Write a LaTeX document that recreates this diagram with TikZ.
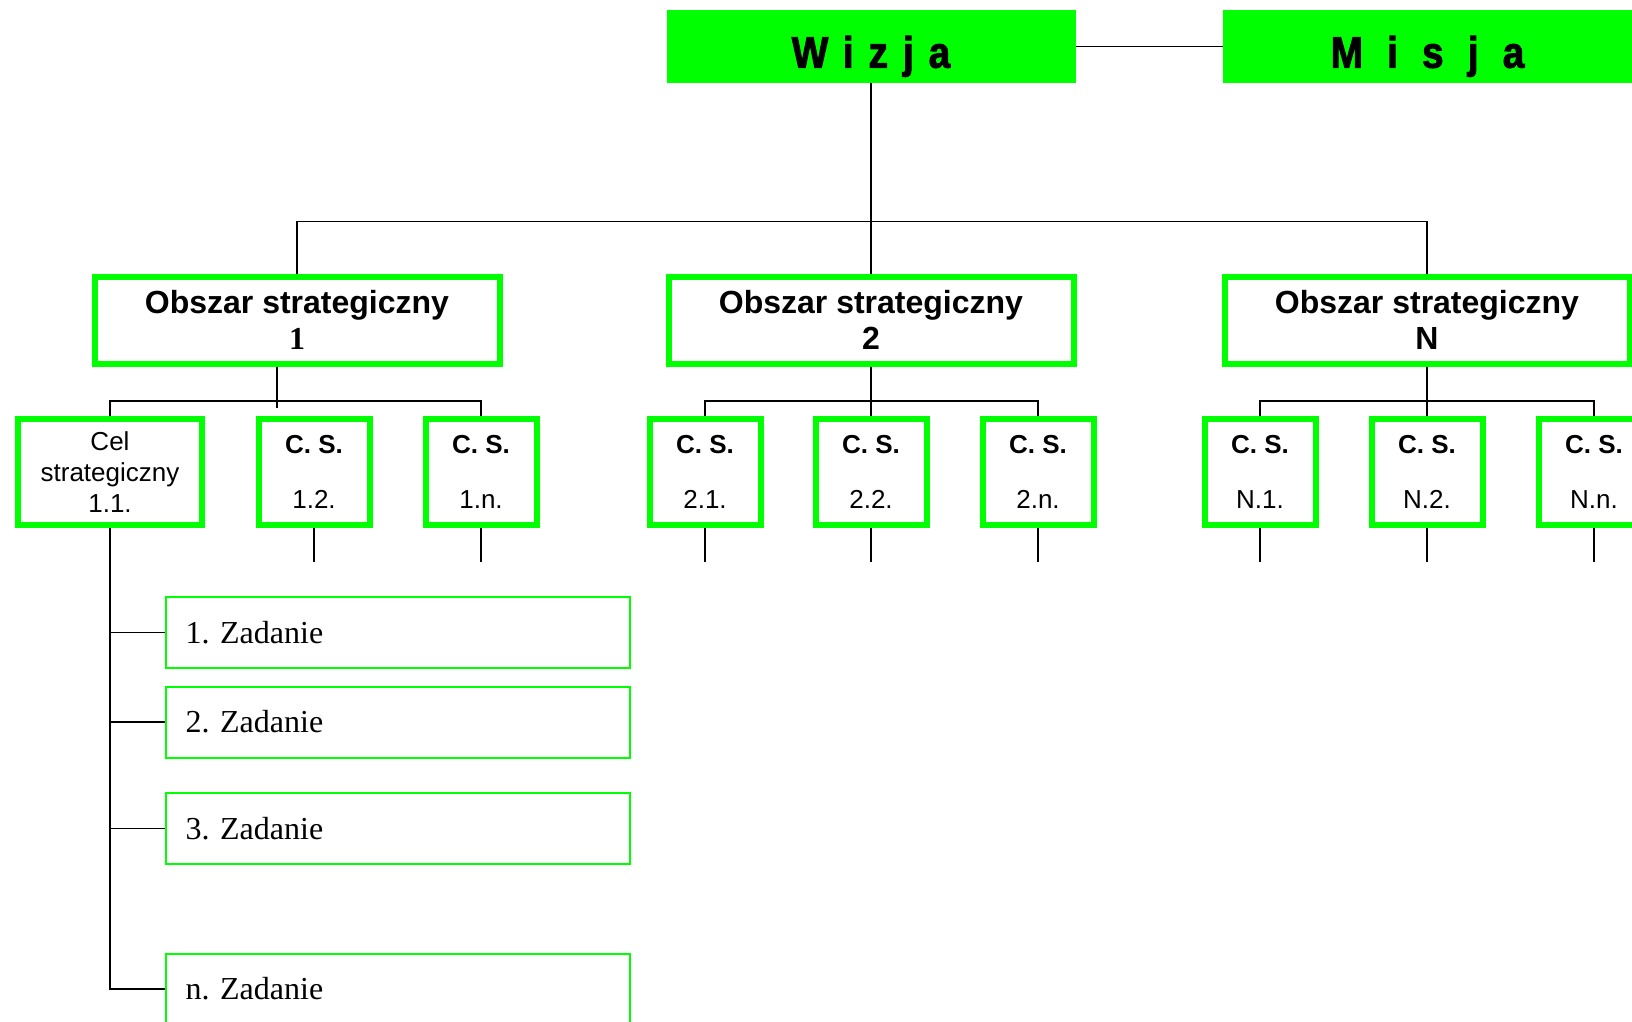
\documentclass[tikz,border=0pt]{standalone}
\usepackage{fontspec}
\setmainfont{Liberation Serif}
\setsansfont{Liberation Sans}
\newfontfamily\naglowek[FakeStretch=0.88,FakeBold=2.2]{Liberation Sans}
\usetikzlibrary{positioning}
\definecolor{zielony}{RGB}{0,255,0}
\frenchspacing

\begin{document}
\begin{tikzpicture}[
x=0.5pt, y=-0.5pt,
glowny/.style={fill=zielony,
minimum width=204.5pt,
minimum height=36.5pt,
inner sep=0pt,
text height=22pt,
text depth=0.8pt,
font=\naglowek\bfseries\fontsize{22}{26}\selectfont},
obszar/.style={draw=zielony,
line width=3pt,
minimum width=202.5pt,
minimum height=43.5pt,
inner sep=0pt,
align=center,
font=\sffamily\bfseries\fontsize{16}{18}\selectfont},
celbox/.style={draw=zielony,
line width=3pt,
minimum width=55.5pt,
minimum height=53pt,
inner sep=0pt,
align=center,
font=\sffamily\fontsize{13}{15.3}\selectfont},
zadanie/.style={draw=zielony,
line width=1pt,
minimum width=232pt,
minimum height=35.5pt,
text width=212pt,
inner xsep=10pt,
align=left,
font=\fontsize{16}{19}\selectfont},
linia/.style={draw=black, line width=0.75pt}
]

\clip (0,0) rectangle (1632,1022);

% wizja i misja
\node[glowny] (wizja) at (871,46.5) {\addfontfeature{LetterSpace=34}Wizja};
\node[glowny] (misja) at (1427.5,46.5) {\addfontfeature{LetterSpace=55}Misja};

% obszary
\node[obszar] (obs1) at (297,320) {Obszar strategiczny\\{\rmfamily 1}};
\node[obszar] (obs2) at (871,320) {Obszar strategiczny\\2};
\node[obszar] (obs3) at (1427,320) {Obszar strategiczny\\N};

% cele strategiczne
\node[celbox, minimum width=92pt] (cs11) at (110,472) {Cel\\strategiczny\\1.1.};
\foreach \nazwa/\x/\nr in {cs12/314/1.2., cs1n/481/1.n.,
  cs21/705/2.1., cs22/871/2.2., cs2n/1038/2.n.,
  csN1/1260/N.1., csN2/1427/N.2., csNn/1594/N.n.}
  \node[celbox] (\nazwa) at (\x,472) {{\bfseries C. S.}\\[12pt]\nr};

% zadania
\node[zadanie] (zad1) at (397.5,632.5) {1. Zadanie};
\node[zadanie] (zad2) at (397.5,722) {2. Zadanie};
\node[zadanie] (zad3) at (397.5,828.5) {3. Zadanie};
\node[zadanie] (zadn) at (397.5,989) {n. Zadanie};

\draw[linia] (wizja) -- (misja);
\draw[linia] (wizja.south) -- (obs2.north);
\draw[linia] (obs1.north) -- ++(0,-52) -| (obs3.north);

\draw[linia] ([xshift=-10pt]obs1.south) -- ++(0,41);
\draw[linia] (cs11.north) -- ++(0,-15) -| (cs1n.north);
\draw[linia] (obs2.south) -- (cs22.north);
\draw[linia] (cs21.north) -- ++(0,-15) -| (cs2n.north);
\draw[linia] (obs3.south) -- (csN2.north);
\draw[linia] (csN1.north) -- ++(0,-15) -| (csNn.north);

\foreach \nazwa in {cs12,cs1n,cs21,cs22,cs2n,csN1,csN2,csNn}
  \draw[linia] (\nazwa.south) -- ++(0,34);

\draw[linia] (cs11.south) -- (cs11.south |- zad3.west);
\draw[linia, line width=1.2pt] (cs11.south |- zad3.west) |- (zadn.west);
\foreach \z in {zad1,zad2,zad3}
  \draw[linia] (cs11.south |- \z.west) -- (\z.west);

\end{tikzpicture}
\end{document}
